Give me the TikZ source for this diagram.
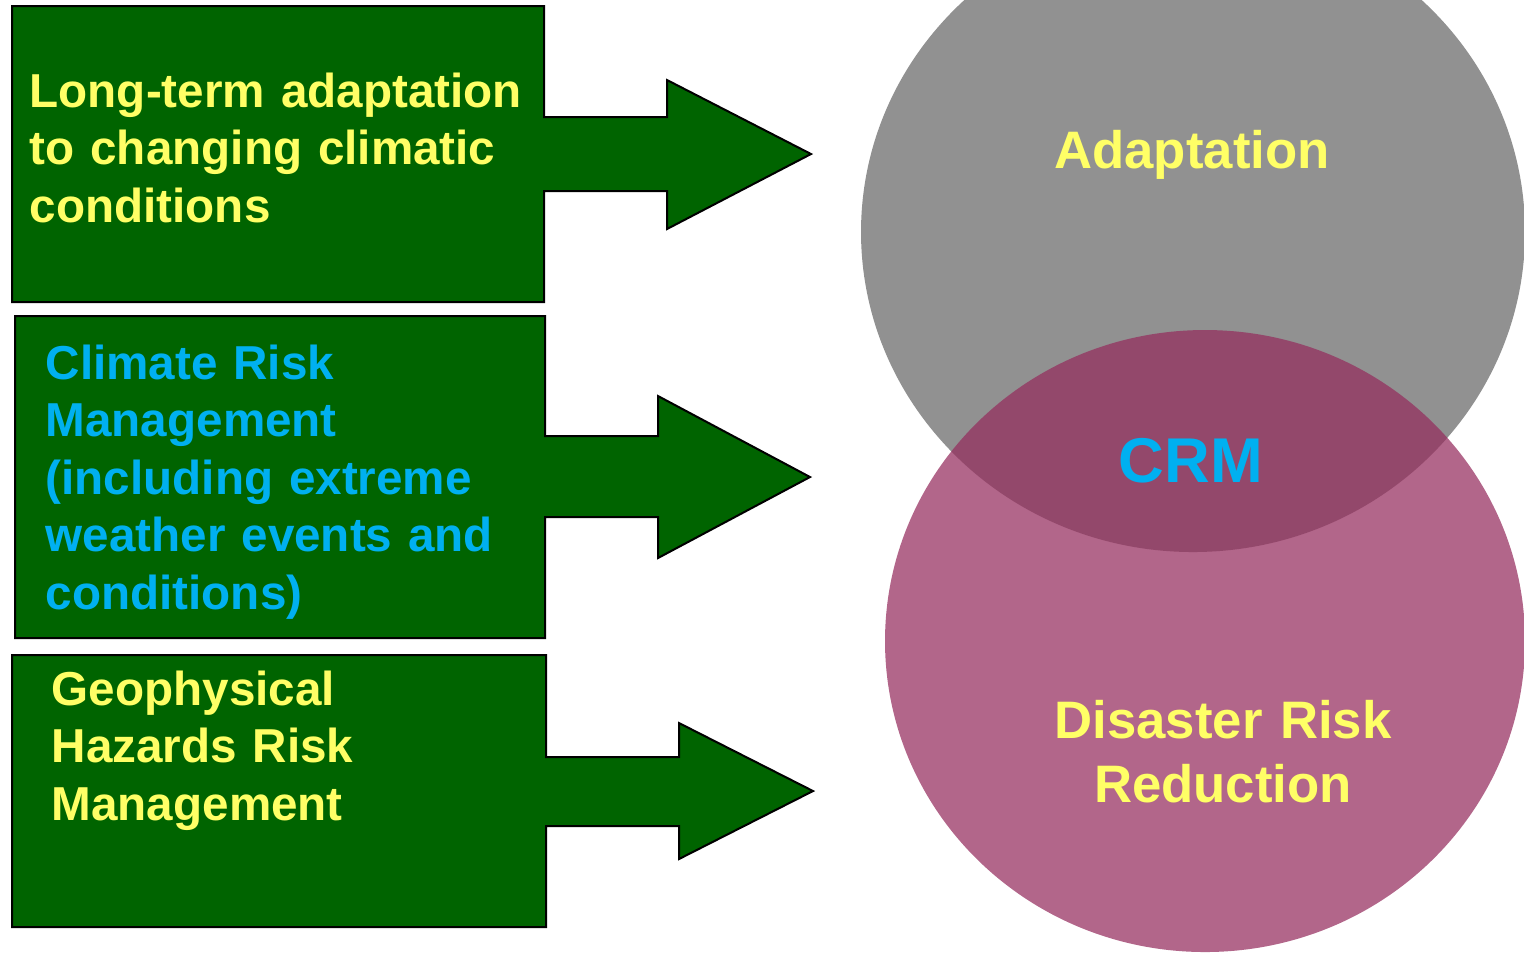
\documentclass[tikz,border=0pt]{standalone}
\usepackage{fontspec}
\setmainfont{Liberation Sans}
\definecolor{boxgreen}{RGB}{0,100,0}
\definecolor{txtyellow}{RGB}{255,255,102}
\definecolor{txtblue}{RGB}{0,176,240}
\definecolor{adaptgray}{RGB}{145,145,145}
\definecolor{drrpink}{RGB}{149,45,94}

\begin{document}
\begin{tikzpicture}[x=0.1mm,y=-0.1mm,
    arrowbox/.style={fill=boxgreen,draw=black,line width=0.2mm,line join=miter},
    boxtext/.style={anchor=base west,inner sep=0pt,text width=52mm,align=left,
      font=\fontsize{13.55}{16.4}\selectfont\bfseries},
    circtext/.style={anchor=base,inner sep=0pt,text=txtyellow,
      font=\fontsize{15}{18.2}\selectfont\bfseries}]
  \clip (0,0) rectangle (1524,956);
  % green boxes with their arrows
  \filldraw[arrowbox] (12,6) -- (544,6) -- (544,117) -- (667,117) -- (667,80)
    -- (811,154) -- (667,229) -- (667,191) -- (544,191) -- (544,302) -- (12,302) -- cycle;
  \filldraw[arrowbox] (15,316) -- (545,316) -- (545,436) -- (658,436) -- (658,396)
    -- (810,477) -- (658,558) -- (658,517) -- (545,517) -- (545,638) -- (15,638) -- cycle;
  \filldraw[arrowbox] (12,655) -- (546,655) -- (546,757) -- (679,757) -- (679,723)
    -- (813,791) -- (679,859) -- (679,826) -- (546,826) -- (546,927) -- (12,927) -- cycle;
  \node[boxtext,text=txtyellow] (longterm) at (29,107) {Long-term adaptation\\to changing climatic\\conditions};
  \node[boxtext,text=txtblue] (climrisk) at (45,379) {Climate Risk\\Management\\(including extreme\\weather events and\\conditions)};
  \node[boxtext,text=txtyellow] (geohaz) at (51,705) {Geophysical\\Hazards Risk\\Management};
  % the two overlapping sets
  \fill[adaptgray] (1193,232) ellipse [x radius=33.2mm,y radius=32mm];
  \fill[drrpink,fill opacity=0.73] (1205,641) ellipse [x radius=32mm,y radius=31.1mm];
  \node[circtext] (adapt) at (1192,168) {Adaptation};
  \node[circtext,text=txtblue,font=\fontsize{18}{21}\selectfont\bfseries] (crm) at (1191,482) {CRM};
  \node[circtext,text width=45mm,align=center] (drr) at (1223,738) {Disaster Risk\\Reduction};
\end{tikzpicture}
\end{document}
